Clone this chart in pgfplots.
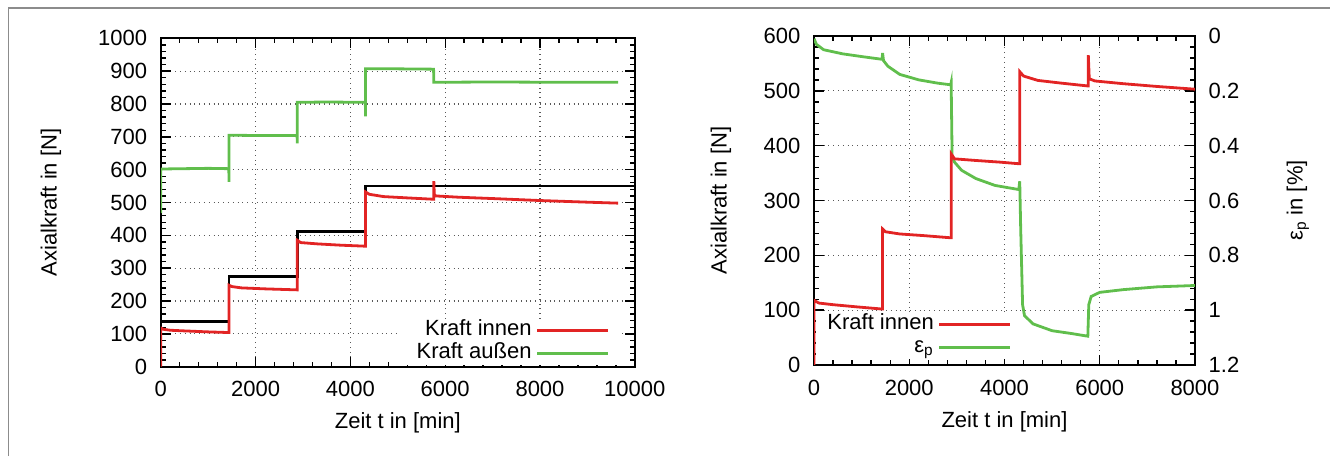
\documentclass[border=0pt]{standalone}
\usepackage{pgfplots}
\pgfplotsset{compat=1.18}
\usepackage{fontspec}
\setmainfont{Liberation Sans}
\definecolor{cred}{RGB}{226,36,36}
\definecolor{cgreen}{RGB}{96,190,76}
\pgfplotsset{
  common/.style={
    scale only axis,
    anchor=south west,
    tick align=inside,
    scaled x ticks=false, scaled y ticks=false,
    /pgf/number format/assume math mode=true,
    /pgf/number format/1000 sep={},
    axis line style={line width=1pt},
    every tick/.style={black, line width=0.7pt},
    major tick length=5pt,
    minor tick length=2.5pt,
    minor x tick num=4,
    minor y tick num=4,
    xticklabel style={yshift=-3.5pt},
    yticklabel style={xshift=-3pt},
    legend cell align=right,
    legend plot pos=right,
    legend image code/.code={\path (0pt,0pt) -- (5.5pt,0pt); \draw[#1] (5.5pt,0pt) -- (35.5pt,0pt);},
  },
  dgrid/.style={grid=major, major grid style={dotted, line width=0.6pt, black!65}},
  dline/.style={line width=1.4pt},
}
\begin{document}
\fontsize{11}{13}\selectfont
\begin{tikzpicture}
\useasboundingbox (0,0) rectangle (665pt,228pt);
\draw[black!45, line width=0.8pt] (4.25pt,0) -- (4.25pt,224pt) -- (665pt,224pt);

% ---------------- left panel ----------------
\begin{axis}[common, dgrid,
  at={(80.4pt,44.65pt)}, width=237pt, height=164.2pt,
  xmin=0, xmax=10000, ymin=0, ymax=1000,
  xtick={0,2000,...,10000}, ytick={0,100,...,1000},
  xlabel={Zeit t in [min]}, ylabel={Axialkraft in [N]},
  xlabel style={at={(axis description cs:0.5,-0.172)}, anchor=center},
  ylabel style={at={(axis description cs:-0.232,0.5)}, anchor=center, rotate=0},
  legend style={at={(1,0)}, anchor=south east, xshift=-6pt, yshift=0.6pt,
    draw=none, fill=white, inner xsep=6.5pt, inner ysep=0.25pt, row sep=0.5pt,
    nodes={text height=7.5pt, text depth=2.5pt, inner ysep=0.5pt}},
]
\addplot[black, dline, forget plot] coordinates {
(0,137.5) (1440,137.5) (1440,275) (2880,275) (2880,412.5) (4320,412.5) (4320,550) (10000,550)};
\addplot[cred, dline] coordinates {
(0,0) (0,118) (50,114) (200,111) (500,109) (1000,106) (1435,104) (1440,104)
(1440,248) (1500,244) (1700,240) (2200,237) (2870,234) (2880,234)
(2880,385) (2950,378) (3300,374) (3800,370) (4310,367) (4320,367)
(4320,532) (4400,525) (4700,518) (5200,514) (5740,510) (5760,510)
(5760,565) (5770,525) (5800,520) (6300,516) (7000,512) (8000,506) (9000,501) (9650,498)};
\addlegendentry{Kraft innen}
\addplot[cgreen, dline] coordinates {
(0,468) (0,602) (500,603) (1000,604) (1435,603) (1440,563)
(1440,705) (2000,704) (2875,704) (2880,680)
(2880,805) (3500,806) (4315,805) (4320,762)
(4320,907) (5000,907) (5755,906) (5760,866)
(7000,867) (8500,866) (9650,866)};
\addlegendentry{Kraft außen}
\end{axis}

% ---------------- right panel ----------------
\begin{axis}[common, dgrid,
  at={(407pt,45.5pt)}, width=190.5pt, height=164.5pt,
  xmin=0, xmax=8000, ymin=0, ymax=600,
  xtick={0,2000,...,8000}, ytick={0,100,...,600},
  ytick pos=left, xtick pos=both,
  xlabel={Zeit t in [min]}, ylabel={Axialkraft in [N]},
  xlabel style={at={(axis description cs:0.5,-0.173)}, anchor=center},
  ylabel style={at={(axis description cs:-0.244,0.5)}, anchor=center, rotate=0},
  legend style={at={(0,0)}, anchor=south west, xshift=1pt, yshift=3pt,
    draw=none, fill=white, inner xsep=3.5pt, inner ysep=0.25pt, row sep=0.5pt,
    nodes={text height=7.5pt, text depth=2.5pt, inner ysep=0.5pt}},
]
\addlegendimage{cred, dline}
\addlegendentry{Kraft innen}
\addlegendimage{cgreen, dline}
\addlegendentry{ε\textsubscript{p}}
\end{axis}
\begin{axis}[common,
  at={(407pt,45.5pt)}, width=190.5pt, height=164.5pt,
  xmin=0, xmax=8000, ymin=0, ymax=1.2, y dir=reverse,
  axis x line=none, axis y line*=right,
  ytick={0,0.2,0.4,0.6,0.8,1,1.2},
  yticklabel style={xshift=6pt},
  ylabel={ε\textsubscript{p} in [\%]},
  ylabel style={at={(axis description cs:1.27,0.5)}, anchor=center, rotate=0},
]
\addplot[cgreen, dline] coordinates {
(0,0.01) (50,0.03) (200,0.05) (600,0.065) (1000,0.075) (1430,0.085) (1440,0.062)
(1460,0.09) (1550,0.11) (1800,0.14) (2200,0.16) (2600,0.172) (2870,0.178)
(2880,0.17) (2890,0.30) (2900,0.44) (2950,0.46) (3100,0.49) (3400,0.52) (3800,0.545) (4300,0.56)
(4320,0.53) (4340,0.70) (4380,0.98) (4420,1.02) (4600,1.05) (5000,1.075) (5400,1.085) (5750,1.095)
(5770,0.98) (5820,0.95) (6000,0.935) (6500,0.925) (7200,0.915) (8000,0.91)};
\end{axis}
\begin{axis}[scale only axis, anchor=south west,
  at={(407pt,45.5pt)}, width=190.5pt, height=164.5pt,
  xmin=0, xmax=8000, ymin=0, ymax=600, hide axis]
\addplot[cred, dline] coordinates {
(0,0) (0,118) (100,113) (400,110) (900,106) (1435,102) (1440,102)
(1440,248) (1500,243) (1800,239) (2300,236) (2870,232) (2880,232)
(2880,385) (2950,376) (3400,373) (3900,370) (4310,367) (4320,367)
(4320,535) (4400,527) (4700,519) (5200,514) (5740,509) (5760,509)
(5760,565) (5780,522) (5900,518) (6500,513) (7200,508) (8000,503)};
\end{axis}
\end{tikzpicture}
\end{document}
